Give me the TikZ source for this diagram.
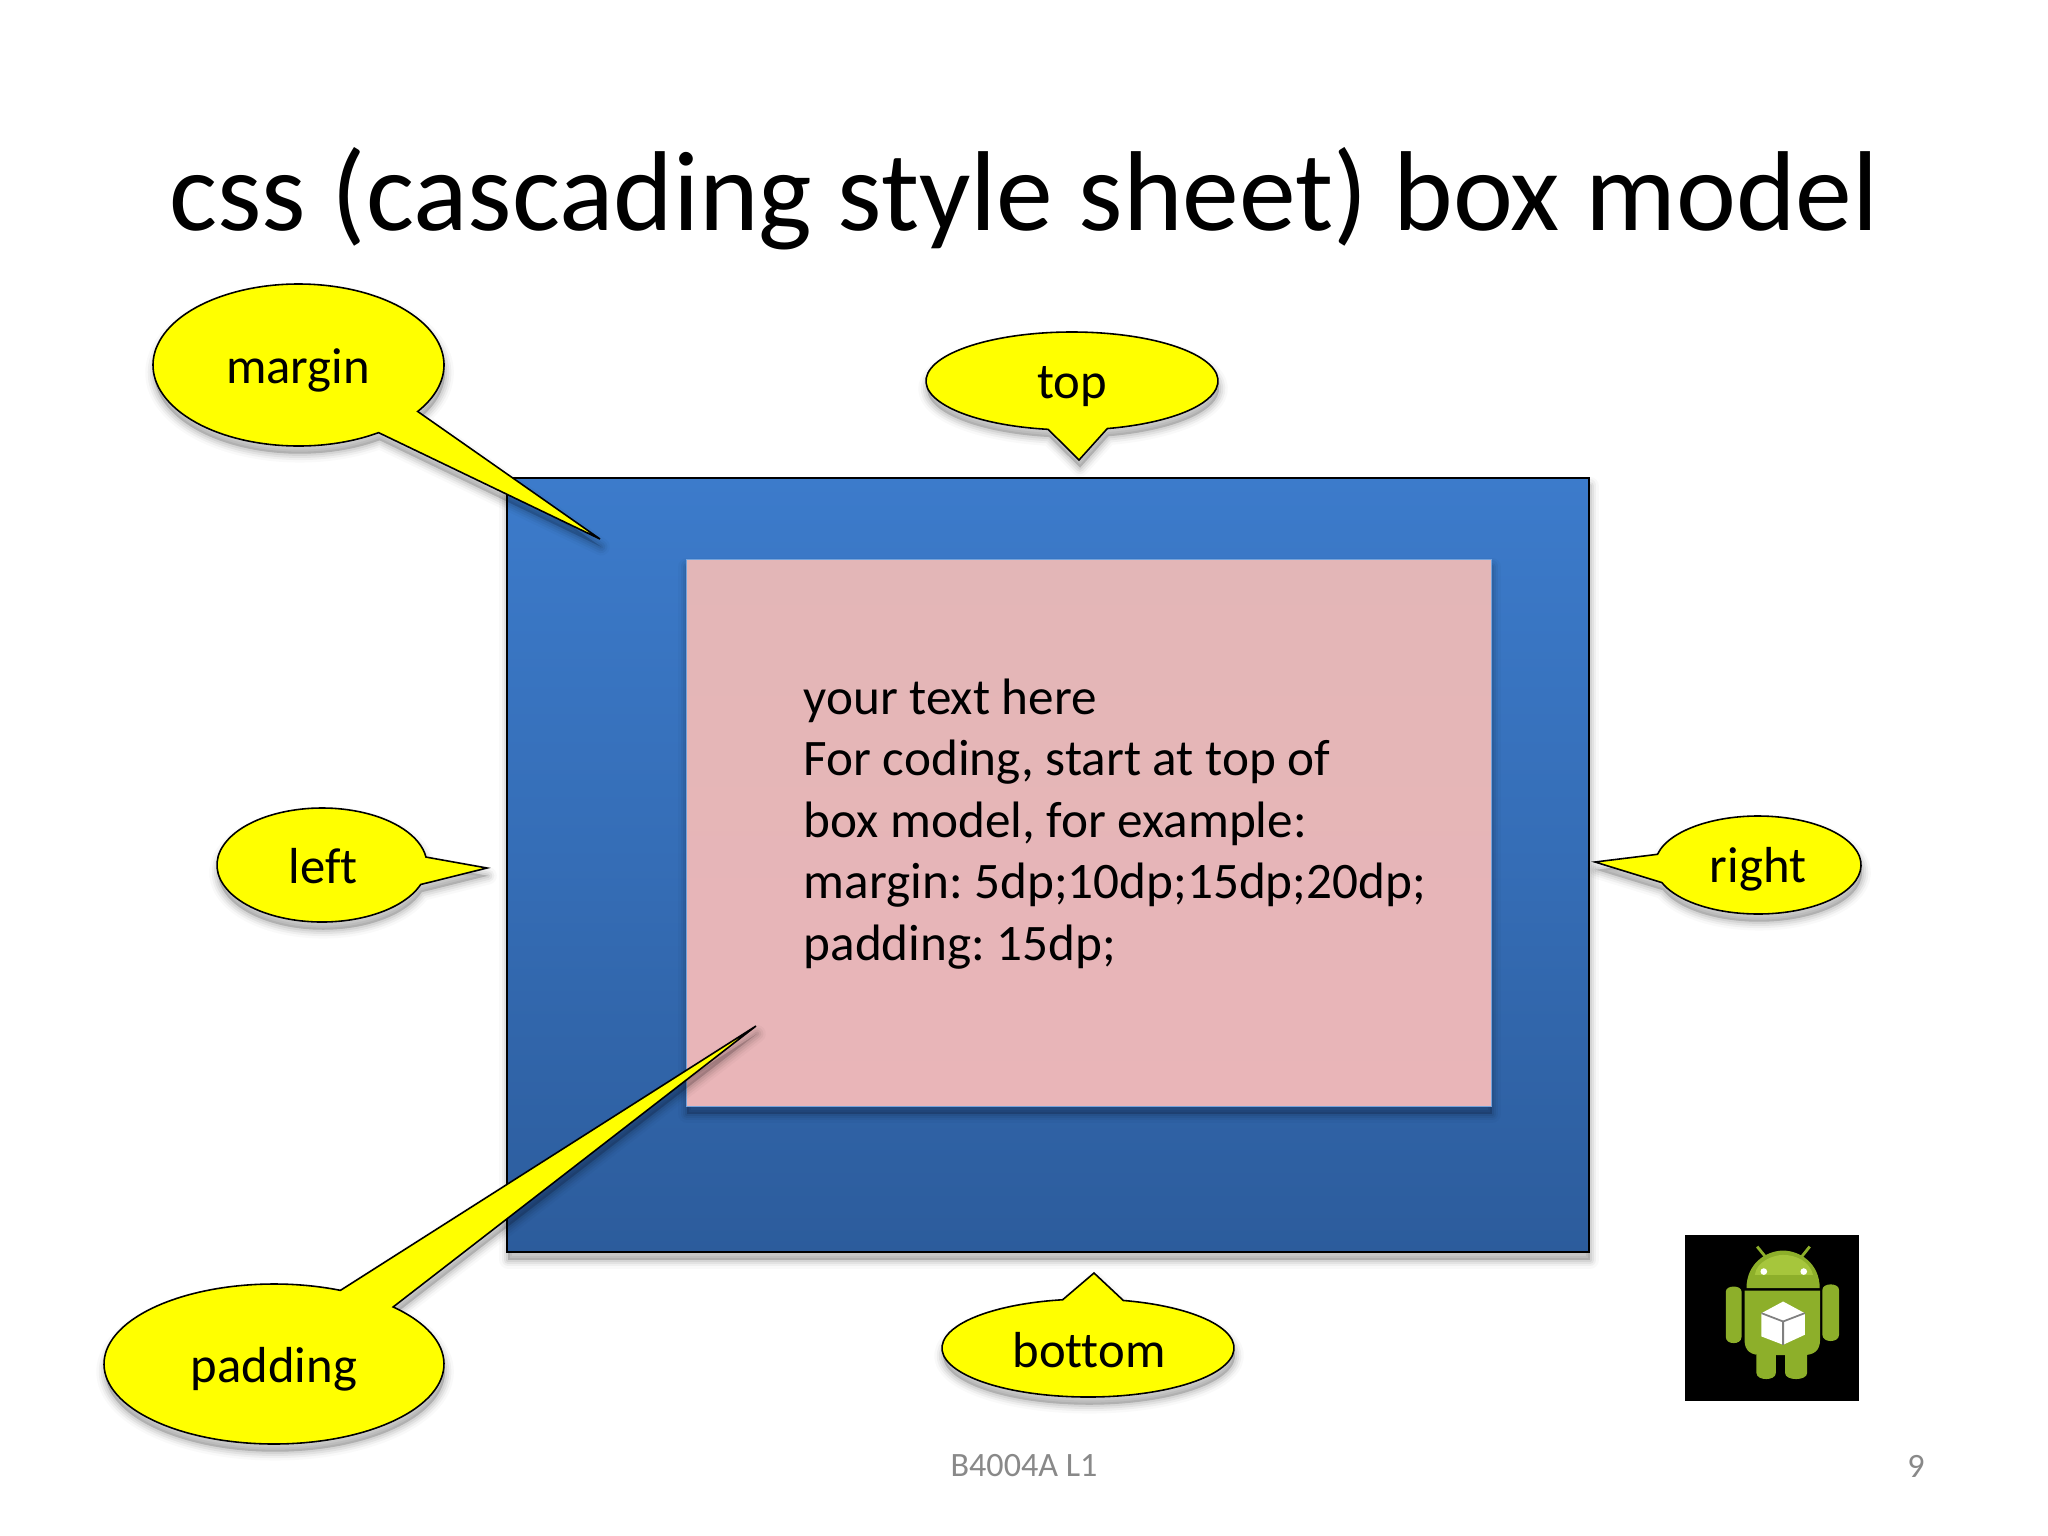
\documentclass[tikz,border=0pt]{standalone}
\usepackage{fontspec}
\setmainfont[Ligatures=NoCommon]{Carlito}
\definecolor{pureyellow}{RGB}{255,255,0}
\tikzset{
  softshadow/.style={
    preaction={draw=black,fill=black,line join=round,opacity=.025,line width=5.0pt,transform canvas={yshift=-2.2pt,xshift=.3pt}},
    preaction={draw=black,fill=black,line join=round,opacity=.04,line width=3.6pt,transform canvas={yshift=-2.2pt,xshift=.3pt}},
    preaction={draw=black,fill=black,line join=round,opacity=.05,line width=2.4pt,transform canvas={yshift=-2.2pt,xshift=.3pt}},
    preaction={draw=black,fill=black,line join=round,opacity=.06,line width=1.2pt,transform canvas={yshift=-2.2pt,xshift=.3pt}}},
  bubble/.style={draw=black,line width=.45pt,fill=pureyellow,line join=miter,miter limit=10,softshadow},
  bubbletext/.style={font=\fontsize{14.4}{17.5}\selectfont\frenchspacing,text=black,inner sep=0pt},
  footer/.style={font=\fontsize{9.7}{12}\selectfont,text=footgray,inner sep=0pt},
}
\definecolor{footgray}{HTML}{898989}
\definecolor{droidgreen}{HTML}{8DAF2A}
\definecolor{droidlight}{HTML}{A6C63C}
\definecolor{bluetop}{HTML}{3C7BCB}
\definecolor{bluebot}{HTML}{2C5C9C}
\definecolor{pinktop}{HTML}{E3B6B7}
\definecolor{pinkbot}{HTML}{E9B5B8}
% cx cy rx ry start end tipx tipy
\newcommand{\bubbleshape}[8]{%
  \path[bubble] ({#1+#3*cos(#5)},{#2+#4*sin(#5)}) arc[start angle=#5,end angle=#6,x radius=#3,y radius=#4] -- (#7,#8) -- cycle;}
\begin{document}
\begin{tikzpicture}[x=0.01cm,y=-0.01cm]
\useasboundingbox (0,0) rectangle (2048,1536);
\fill[white] (0,0) rectangle (2048,1536);
\node[inner sep=0pt,font=\fontsize{32.3}{38}\selectfont\frenchspacing] (title) at (1024,199) {css (cascading style sheet) box model};
% margin box
\path[draw=black,line width=.45pt,top color=bluetop,bottom color=bluebot,middle color=bluetop!55!bluebot,softshadow] (507,478) rectangle (1589,1252);
% padding box
\path[top color=pinktop,bottom color=pinkbot,draw=bluetop!70!white,line width=.2pt,softshadow] (686,559) rectangle (1491,1106);
\node[inner sep=0pt,anchor=north west,align=left,font=\fontsize{14.56}{17.47}\selectfont\frenchspacing] (content) at (803,678) {your text here\\For coding, start at top of\\box model, for example:\\margin: 5dp;10dp;15dp;20dp;\\padding: 15dp;};
% callouts
\bubbleshape{298.5}{365}{145.5}{81}{56.6}{395}{600}{539}
\node[bubbletext] (margin) at (298,370) {margin};
\bubbleshape{1072}{381}{146}{49}{99.4}{436}{1079}{460}
\node[bubbletext] (top) at (1072,387) {top};
\bubbleshape{322}{865}{105}{57}{20}{352}{487}{868}
\node[bubbletext] (left) at (323,866) {left};
\bubbleshape{1758}{865}{103}{49}{192.6}{519}{1595}{862}
\node[bubbletext] (right) at (1758,869) {right};
\bubbleshape{1088}{1348}{146}{49}{284}{620}{1094}{1273}
\node[bubbletext] (bottom) at (1089,1350) {bottom};
\bubbleshape{274}{1364}{170}{80}{-45.5}{293}{756}{1026}
\node[bubbletext] (padding) at (274,1369) {padding};
% footer
\node[footer] (foot) at (1024,1466) {B4004A L1};
\node[footer] (num) at (1916,1466) {9};
% android icon
\begin{scope}[shift={(1640,1200)},x=0.00333cm,y=-0.00333cm]
\fill[black] (135,105) rectangle (658,603);
\draw[droidgreen,line width=.8pt] (352,140) -- (378,172) (510,140) -- (486,170);
\fill[droidgreen] (320,265) .. controls (320,190) and (380,152) .. (430,152) .. controls (480,152) and (540,190) .. (540,265) -- cycle;
\fill[droidlight] (345,225) .. controls (350,185) and (400,165) .. (430,165) .. controls (470,165) and (510,185) .. (520,225) -- cycle;
\fill[white] (372,215) circle (10) (492,215) circle (10);
\fill[droidgreen] (314,272) -- (541,272) -- (541,420) .. controls (541,455) and (520,466) .. (490,466) -- (365,466) .. controls (335,466) and (314,455) .. (314,420) -- cycle;
\fill[droidgreen] (258,275) .. controls (258,255) and (305,255) .. (305,275) -- (305,412) .. controls (305,436) and (258,436) .. (258,412) -- cycle;
\fill[droidgreen] (548,270) .. controls (548,248) and (598,248) .. (598,270) -- (598,405) .. controls (598,430) and (548,430) .. (548,405) -- cycle;
\fill[droidgreen] (350,466) -- (408,466) -- (408,520) .. controls (408,544) and (350,544) .. (350,520) -- cycle;
\fill[droidgreen] (436,466) -- (502,466) -- (502,520) .. controls (502,544) and (436,544) .. (436,520) -- cycle;
\fill[white] (430,305) -- (495,340) -- (495,405) -- (430,435) -- (365,410) -- (365,340) -- cycle;
\draw[gray,line width=.5pt] (365,340) -- (430,365) -- (495,340) (430,365) -- (430,435);
\end{scope}
\end{tikzpicture}
\end{document}
